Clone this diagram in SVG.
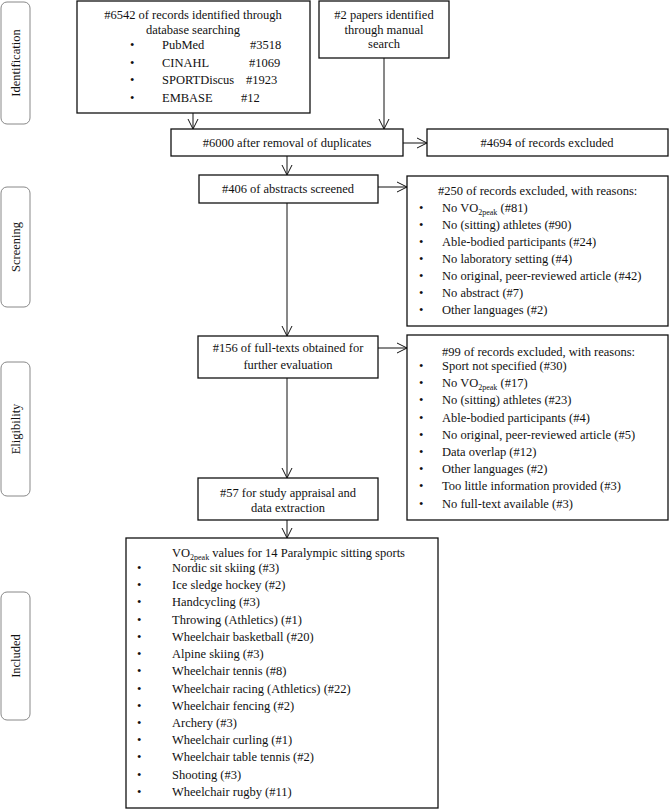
<svg xmlns="http://www.w3.org/2000/svg" width="670" height="810" viewBox="0 0 670 810">
<style>
text{font-family:"Liberation Serif","Times New Roman",serif;font-size:12.5px;fill:#111}
.c{text-anchor:middle}
.box{fill:#fff;stroke:#111;stroke-width:1.3}
.side{fill:#fff;stroke:#888;stroke-width:1}
.con{stroke:#111;stroke-width:1;fill:none}
.sub{font-size:8px}
</style>
<defs>
<marker id="ah" viewBox="-1 -6 12 12" markerWidth="12" markerHeight="12" refX="10" refY="0" orient="auto" markerUnits="userSpaceOnUse">
<path d="M0,-5 L10,0 L0,5" fill="none" stroke="#111" stroke-width="1"/>
</marker>
</defs>
<rect width="670" height="810" fill="#fff"/>
<g id="phase-identification"><rect class="side" x="1" y="2" width="29" height="122" rx="6"/><text class="c" transform="translate(20,63) rotate(-90)">Identification</text></g>
<g id="phase-screening"><rect class="side" x="1" y="187" width="29" height="120" rx="6"/><text class="c" transform="translate(20,247) rotate(-90)">Screening</text></g>
<g id="phase-eligibility"><rect class="side" x="1" y="362" width="29" height="134" rx="6"/><text class="c" transform="translate(20,429) rotate(-90)">Eligibility</text></g>
<g id="phase-included"><rect class="side" x="1" y="592" width="29" height="128" rx="6"/><text class="c" transform="translate(20,656) rotate(-90)">Included</text></g>

<g id="connectors">
<line class="con" x1="193" y1="113" x2="193" y2="129" marker-end="url(#ah)"/>
<line class="con" x1="384" y1="58" x2="384" y2="129" marker-end="url(#ah)"/>
<line class="con" x1="403" y1="143" x2="427" y2="143" marker-end="url(#ah)"/>
<line class="con" x1="287" y1="156" x2="287" y2="175" marker-end="url(#ah)"/>
<line class="con" x1="378" y1="187" x2="407" y2="187" marker-end="url(#ah)"/>
<line class="con" x1="287" y1="203" x2="287" y2="336" marker-end="url(#ah)"/>
<line class="con" x1="378" y1="348" x2="407" y2="348" marker-end="url(#ah)"/>
<line class="con" x1="287" y1="378" x2="287" y2="478" marker-end="url(#ah)"/>
<line class="con" x1="287" y1="520" x2="287" y2="538" marker-end="url(#ah)"/>
</g>

<g id="db-search">
<rect class="box" x="77" y="1" width="233" height="112"/>
<text class="c" x="193" y="19">#6542 of records identified through</text>
<text class="c" x="193" y="34">database searching</text>
<text x="130" y="49">•</text><text x="162" y="49">PubMed</text><text x="250" y="49">#3518</text>
<text x="130" y="67">•</text><text x="162" y="67">CINAHL</text><text x="249" y="67">#1069</text>
<text x="130" y="84">•</text><text x="162" y="84">SPORTDiscus</text><text x="246" y="84">#1923</text>
<text x="130" y="102">•</text><text x="162" y="102">EMBASE</text><text x="241" y="102">#12</text>
</g>
<g id="manual-search">
<rect class="box" x="319" y="1" width="130" height="57"/>
<text class="c" x="384" y="19">#2 papers identified</text>
<text class="c" x="384" y="34">through manual</text>
<text class="c" x="384" y="48">search</text>
</g>
<g id="duplicates">
<rect class="box" x="171" y="129" width="232" height="27"/>
<text class="c" x="287" y="147">#6000 after removal of duplicates</text>
</g>
<g id="excluded-4694">
<rect class="box" x="427" y="129" width="241" height="27"/>
<text class="c" x="547" y="147">#4694 of records excluded</text>
</g>
<g id="abstracts">
<rect class="box" x="199" y="175" width="179" height="28"/>
<text class="c" x="288" y="193">#406 of abstracts screened</text>
</g>
<g id="excluded-250">
<rect class="box" x="407" y="176" width="261" height="150"/>
<text x="438" y="195">#250 of records excluded, with reasons:</text>
<text x="419" y="212">•</text><text x="442" y="212">No VO<tspan class="sub" dy="3">2peak</tspan><tspan dy="-3"> (#81)</tspan></text>
<text x="419" y="229">•</text><text x="442" y="229">No (sitting) athletes (#90)</text>
<text x="419" y="246">•</text><text x="442" y="246">Able-bodied participants (#24)</text>
<text x="419" y="263">•</text><text x="442" y="263">No laboratory setting (#4)</text>
<text x="419" y="280">•</text><text x="442" y="280">No original, peer-reviewed article (#42)</text>
<text x="419" y="297">•</text><text x="442" y="297">No abstract (#7)</text>
<text x="419" y="314">•</text><text x="442" y="314">Other languages (#2)</text>
</g>
<g id="fulltexts">
<rect class="box" x="198" y="336" width="180" height="42"/>
<text class="c" x="288" y="352">#156 of full-texts obtained for</text>
<text class="c" x="288" y="369">further evaluation</text>
</g>
<g id="excluded-99">
<rect class="box" x="407" y="335" width="261" height="185"/>
<text x="442" y="356">#99 of records excluded, with reasons:</text>
<text x="419" y="370">•</text><text x="442" y="370">Sport not specified (#30)</text>
<text x="419" y="387">•</text><text x="442" y="387">No VO<tspan class="sub" dy="3">2peak</tspan><tspan dy="-3"> (#17)</tspan></text>
<text x="419" y="404">•</text><text x="442" y="404">No (sitting) athletes (#23)</text>
<text x="419" y="422">•</text><text x="442" y="422">Able-bodied participants (#4)</text>
<text x="419" y="439">•</text><text x="442" y="439">No original, peer-reviewed article (#5)</text>
<text x="419" y="456">•</text><text x="442" y="456">Data overlap (#12)</text>
<text x="419" y="473">•</text><text x="442" y="473">Other languages (#2)</text>
<text x="419" y="490">•</text><text x="442" y="490">Too little information provided (#3)</text>
<text x="419" y="508">•</text><text x="442" y="508">No full-text available (#3)</text>
</g>
<g id="appraisal">
<rect class="box" x="198" y="478" width="180" height="42"/>
<text class="c" x="288" y="497">#57 for study appraisal and</text>
<text class="c" x="288" y="512">data extraction</text>
</g>
<g id="included">
<rect class="box" x="126" y="538" width="312" height="270"/>
<text x="172" y="557">VO<tspan class="sub" dy="3">2peak</tspan><tspan dy="-3"> values for 14 Paralympic sitting sports</tspan></text>
<text x="137" y="572">•</text><text x="172" y="572">Nordic sit skiing  (#3)</text>
<text x="137" y="589">•</text><text x="172" y="589">Ice sledge hockey  (#2)</text>
<text x="137" y="606">•</text><text x="172" y="606">Handcycling (#3)</text>
<text x="137" y="624">•</text><text x="172" y="624">Throwing (Athletics) (#1)</text>
<text x="137" y="641">•</text><text x="172" y="641">Wheelchair basketball (#20)</text>
<text x="137" y="658">•</text><text x="172" y="658">Alpine skiing  (#3)</text>
<text x="137" y="675">•</text><text x="172" y="675">Wheelchair tennis (#8)</text>
<text x="137" y="693">•</text><text x="172" y="693">Wheelchair racing (Athletics) (#22)</text>
<text x="137" y="710">•</text><text x="172" y="710">Wheelchair fencing (#2)</text>
<text x="137" y="727">•</text><text x="172" y="727">Archery (#3)</text>
<text x="137" y="744">•</text><text x="172" y="744">Wheelchair curling (#1)</text>
<text x="137" y="761">•</text><text x="172" y="761">Wheelchair table tennis (#2)</text>
<text x="137" y="779">•</text><text x="172" y="779">Shooting (#3)</text>
<text x="137" y="796">•</text><text x="172" y="796">Wheelchair rugby (#11)</text>
</g>
</svg>
